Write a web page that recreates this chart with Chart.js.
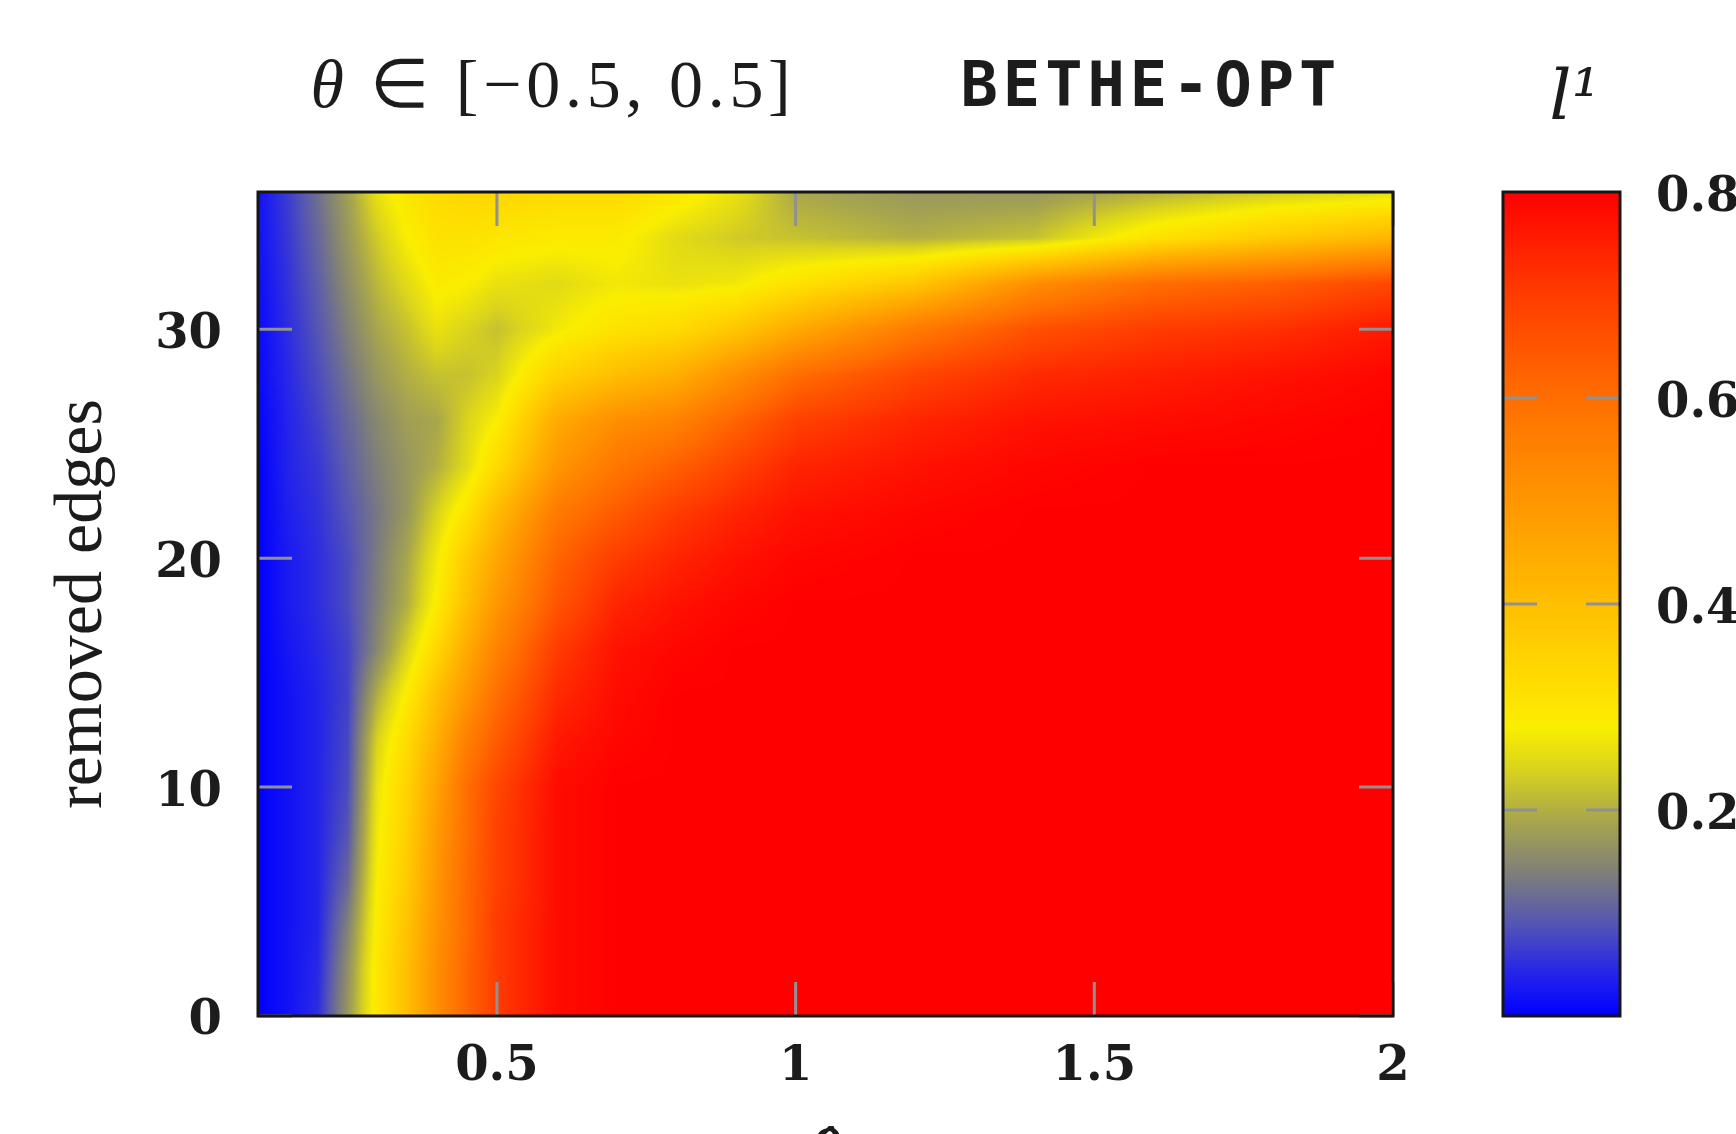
<!DOCTYPE html>
<html>
<head>
<meta charset="utf-8">
<title>BETHE-OPT l1</title>
<script src="https://cdn.jsdelivr.net/npm/chart.js@4.4.1/dist/chart.umd.min.js"></script>
<style>
  html, body { margin: 0; padding: 0; background: #fff; overflow: hidden; width: 1736px; height: 1134px; }
  #mapa { position: absolute; left: 0; top: 0; }
  #barra { position: absolute; left: 1400px; top: 0; }
</style>
</head>
<body>
<canvas id="mapa" width="1736" height="1200"></canvas>
<canvas id="barra" width="400" height="1200"></canvas>
<script>
// Ejes del mapa (beta en x, aristas eliminadas en y)
const betaCols = [0.1, 0.15, 0.2, 0.25, 0.3, 0.35, 0.4, 0.45, 0.5, 0.6, 0.7, 0.8, 0.9, 1.0, 1.2, 1.4, 1.6, 1.8, 2.0];
const aristasFilas = [0, 2, 4, 6, 8, 10, 12, 14, 16, 18, 20, 22, 24, 26, 28, 30, 32, 34, 36];
const xTicks = [0.5, 1, 1.5, 2];
const yTicks = [0, 10, 20, 30];
const barraTicks = [0.2, 0.4, 0.6, 0.8];

// Valores l1 por columna de beta (una entrada por cada fila de aristasFilas)
const col010 = [0, 0, 0, 0, 0, 0, 0, 0, 0, 0, 0, 0, 0, 0.005, 0.01, 0.01, 0.015, 0.02, 0.02];
const col015 = [0.02, 0.02, 0.02, 0.02, 0.02, 0.02, 0.02, 0.02, 0.025, 0.03, 0.03, 0.035, 0.04, 0.04, 0.045, 0.05, 0.055, 0.06, 0.065];
const col020 = [0.05, 0.045, 0.04, 0.04, 0.04, 0.04, 0.04, 0.04, 0.045, 0.05, 0.05, 0.055, 0.06, 0.07, 0.08, 0.09, 0.1, 0.11, 0.12];
const col025 = [0.17, 0.16, 0.14, 0.11, 0.09, 0.08, 0.075, 0.07, 0.07, 0.08, 0.08, 0.09, 0.1, 0.11, 0.125, 0.14, 0.155, 0.17, 0.18];
const col030 = [0.3, 0.3, 0.29, 0.28, 0.27, 0.26, 0.24, 0.2, 0.15, 0.14, 0.135, 0.13, 0.14, 0.15, 0.17, 0.19, 0.21, 0.23, 0.26];
const col035 = [0.4, 0.4, 0.39, 0.37, 0.36, 0.35, 0.33, 0.29, 0.24, 0.2, 0.19, 0.17, 0.17, 0.18, 0.2, 0.22, 0.25, 0.28, 0.3];
const col040 = [0.52, 0.52, 0.51, 0.5, 0.49, 0.47, 0.44, 0.4, 0.34, 0.29, 0.27, 0.24, 0.2, 0.19, 0.22, 0.26, 0.29, 0.31, 0.33];
const col045 = [0.62, 0.62, 0.61, 0.61, 0.6, 0.6, 0.56, 0.5, 0.45, 0.4, 0.37, 0.31, 0.25, 0.24, 0.22, 0.24, 0.28, 0.31, 0.34];
const col050 = [0.7, 0.7, 0.7, 0.69, 0.69, 0.68, 0.64, 0.6, 0.55, 0.5, 0.46, 0.41, 0.33, 0.28, 0.24, 0.22, 0.26, 0.3, 0.34];
const col060 = [0.78, 0.78, 0.78, 0.78, 0.78, 0.78, 0.76, 0.73, 0.7, 0.65, 0.62, 0.57, 0.5, 0.45, 0.35, 0.27, 0.25, 0.29, 0.33];
const col070 = [0.8, 0.8, 0.8, 0.8, 0.8, 0.8, 0.79, 0.78, 0.77, 0.74, 0.7, 0.64, 0.58, 0.52, 0.4, 0.31, 0.27, 0.29, 0.33];
const col080 = [0.8, 0.8, 0.8, 0.8, 0.8, 0.8, 0.8, 0.8, 0.79, 0.77, 0.74, 0.7, 0.63, 0.55, 0.44, 0.33, 0.26, 0.25, 0.3];
const col090 = [0.8, 0.8, 0.8, 0.8, 0.8, 0.8, 0.8, 0.8, 0.8, 0.79, 0.77, 0.74, 0.69, 0.62, 0.52, 0.38, 0.27, 0.23, 0.26];
const col100 = [0.8, 0.8, 0.8, 0.8, 0.8, 0.8, 0.8, 0.8, 0.8, 0.8, 0.79, 0.77, 0.74, 0.69, 0.6, 0.45, 0.31, 0.22, 0.19];
const col120 = [0.8, 0.8, 0.8, 0.8, 0.8, 0.8, 0.8, 0.8, 0.8, 0.8, 0.8, 0.79, 0.77, 0.74, 0.68, 0.57, 0.38, 0.2, 0.17];
const col140 = [0.8, 0.8, 0.8, 0.8, 0.8, 0.8, 0.8, 0.8, 0.8, 0.8, 0.8, 0.8, 0.79, 0.77, 0.73, 0.66, 0.52, 0.22, 0.17];
const col160 = [0.8, 0.8, 0.8, 0.8, 0.8, 0.8, 0.8, 0.8, 0.8, 0.8, 0.8, 0.8, 0.8, 0.78, 0.75, 0.7, 0.6, 0.31, 0.2];
const col180 = [0.8, 0.8, 0.8, 0.8, 0.8, 0.8, 0.8, 0.8, 0.8, 0.8, 0.8, 0.8, 0.8, 0.79, 0.77, 0.72, 0.63, 0.37, 0.23];
const col200 = [0.8, 0.8, 0.8, 0.8, 0.8, 0.8, 0.8, 0.8, 0.8, 0.8, 0.8, 0.8, 0.8, 0.8, 0.79, 0.76, 0.68, 0.42, 0.25];
const columnas = [col010, col015, col020, col025, col030, col035, col040, col045, col050, col060,
  col070, col080, col090, col100, col120, col140, col160, col180, col200];

// Paleta azul -> gris -> amarillo -> naranja -> rojo
const paletaPos = [0, 0.04, 0.09, 0.14, 0.19, 0.24, 0.28, 0.33, 0.4, 0.5, 0.6, 0.7, 0.8];
const paletaRGB = [
  [0, 0, 255], [35, 35, 235], [85, 85, 180], [128, 128, 120], [168, 166, 76], [218, 212, 28],
  [250, 238, 0], [255, 218, 0], [255, 190, 0], [255, 150, 0], [255, 110, 0], [255, 60, 0], [255, 0, 0],
];

const fuenteTicks = { family: "'DejaVu Serif'", size: 48, weight: "bold" };
const colorTexto = "#1c1c1c";
const colorMarcas = "rgb(145,145,145)";
const largoMarca = 34;

function colorDe(v) {
  if (v <= paletaPos[0]) return paletaRGB[0];
  for (let k = 0; k < paletaPos.length - 1; k++) {
    if (v <= paletaPos[k + 1]) {
      const t = (v - paletaPos[k]) / (paletaPos[k + 1] - paletaPos[k]);
      const a = paletaRGB[k], b = paletaRGB[k + 1];
      return [a[0] + (b[0] - a[0]) * t, a[1] + (b[1] - a[1]) * t, a[2] + (b[2] - a[2]) * t];
    }
  }
  return paletaRGB[paletaRGB.length - 1];
}

// Busca la celda y la fraccion dentro de ella
function buscarIntervalo(arr, v) {
  if (v <= arr[0]) return [0, 0];
  for (let i = 0; i < arr.length - 1; i++) {
    if (v <= arr[i + 1]) return [i, (v - arr[i]) / (arr[i + 1] - arr[i])];
  }
  return [arr.length - 2, 1];
}

// Interpolacion bilineal para el sombreado (como pm3d interpolate)
function valorEn(beta, aristas) {
  const [i, tx] = buscarIntervalo(betaCols, beta);
  const [j, ty] = buscarIntervalo(aristasFilas, aristas);
  const a = columnas[i][j], b = columnas[i + 1][j];
  const c = columnas[i][j + 1], d = columnas[i + 1][j + 1];
  return (a * (1 - tx) + b * tx) * (1 - ty) + (c * (1 - tx) + d * tx) * ty;
}

function dibujarMarcas(ctx, ca, pixeles, vertical) {
  ctx.save();
  ctx.strokeStyle = colorMarcas;
  ctx.lineWidth = 3;
  ctx.beginPath();
  pixeles.forEach((p) => {
    if (vertical) {
      ctx.moveTo(p, ca.bottom); ctx.lineTo(p, ca.bottom - largoMarca);
      ctx.moveTo(p, ca.top); ctx.lineTo(p, ca.top + largoMarca);
    } else {
      ctx.moveTo(ca.left, p); ctx.lineTo(ca.left + largoMarca, p);
      ctx.moveTo(ca.right, p); ctx.lineTo(ca.right - largoMarca, p);
    }
  });
  ctx.stroke();
  ctx.restore();
}

function dibujarBorde(ctx, ca) {
  ctx.save();
  ctx.strokeStyle = "#161616";
  ctx.lineWidth = 3;
  ctx.strokeRect(ca.left, ca.top, ca.right - ca.left, ca.bottom - ca.top);
  ctx.restore();
}

const pluginMapa = {
  id: "mapaCalor",
  beforeDatasetsDraw(chart) {
    const { ctx, chartArea: ca, scales } = chart;
    const w = Math.round(ca.right - ca.left);
    const h = Math.round(ca.bottom - ca.top);
    const img = ctx.createImageData(w, h);
    const betas = [];
    for (let px = 0; px < w; px++) betas.push(scales.x.getValueForPixel(ca.left + px + 0.5));
    for (let py = 0; py < h; py++) {
      const aristas = scales.y.getValueForPixel(ca.top + py + 0.5);
      for (let px = 0; px < w; px++) {
        const rgb = colorDe(valorEn(betas[px], aristas));
        const k = (py * w + px) * 4;
        img.data[k] = rgb[0];
        img.data[k + 1] = rgb[1];
        img.data[k + 2] = rgb[2];
        img.data[k + 3] = 255;
      }
    }
    ctx.putImageData(img, Math.round(ca.left), Math.round(ca.top));
  },
  afterDatasetsDraw(chart) {
    const { ctx, chartArea: ca, scales } = chart;
    dibujarMarcas(ctx, ca, scales.x.ticks.map((t) => scales.x.getPixelForValue(t.value)), true);
    dibujarMarcas(ctx, ca, scales.y.ticks.map((t) => scales.y.getPixelForValue(t.value)), false);
    dibujarBorde(ctx, ca);
  },
  afterDraw(chart) {
    // Titulo: "θ ∈ [−0.5, 0.5]" y "BETHE-OPT"
    const { ctx, chartArea: ca } = chart;
    const centro = (ca.left + ca.right) / 2;
    const base = 107;
    const inicio = centro - 515;
    const anchoObjetivo = 485;
    const resto = " ∈ [−0.5, 0.5]";
    const fuente = "68px 'Liberation Serif'";
    ctx.save();
    ctx.fillStyle = colorTexto;
    ctx.textAlign = "left";
    ctx.textBaseline = "alphabetic";
    // medir para repartir el espacio sobrante entre letras
    ctx.font = "italic " + fuente;
    const anchoTheta = ctx.measureText("θ").width;
    ctx.font = fuente;
    const anchoResto = ctx.measureText(resto).width;
    const espacio = Math.max(0, (anchoObjetivo - anchoTheta - anchoResto) / (resto.length + 1));
    ctx.letterSpacing = `${espacio}px`;
    ctx.font = "italic " + fuente;
    ctx.fillText("θ", inicio, base);
    ctx.font = fuente;
    ctx.fillText(resto, inicio + anchoTheta + espacio, base);
    ctx.font = "bold 62px 'DejaVu Sans Mono'";
    ctx.letterSpacing = "5px";
    ctx.fillText("BETHE-OPT", centro + 135, base - 1);
    ctx.letterSpacing = "0px";
    ctx.restore();
  },
};

const pluginBarra = {
  id: "barraColor",
  beforeDatasetsDraw(chart) {
    const { ctx, chartArea: ca, scales } = chart;
    for (let py = Math.round(ca.top); py < Math.round(ca.bottom); py++) {
      const rgb = colorDe(scales.y.getValueForPixel(py + 0.5));
      ctx.fillStyle = `rgb(${rgb[0]}, ${rgb[1]}, ${rgb[2]})`;
      ctx.fillRect(ca.left, py, ca.right - ca.left, 1);
    }
  },
  afterDatasetsDraw(chart) {
    const { ctx, chartArea: ca, scales } = chart;
    const pix = scales.y.ticks.filter((t) => t.value < 0.8).map((t) => scales.y.getPixelForValue(t.value));
    dibujarMarcas(ctx, ca, pix, false);
    dibujarBorde(ctx, ca);
  },
  afterDraw(chart) {
    // Etiqueta de la barra: l¹
    const { ctx, chartArea: ca } = chart;
    ctx.save();
    ctx.fillStyle = colorTexto;
    ctx.textAlign = "center";
    ctx.textBaseline = "alphabetic";
    ctx.font = "italic 70px 'DejaVu Serif'";
    ctx.fillText("l¹", (ca.left + ca.right) / 2 + 13, 119);
    ctx.restore();
  },
};

document.addEventListener("DOMContentLoaded", () => {
  // Mapa de calor principal
  new Chart(document.getElementById("mapa"), {
    type: "scatter",
    data: { datasets: [] },
    options: {
      responsive: false,
      animation: false,
      devicePixelRatio: 1,
      layout: { padding: { left: 0, top: 192, right: 343, bottom: 0 } },
      plugins: { legend: { display: false }, tooltip: { enabled: false } },
      scales: {
        x: {
          type: "linear",
          min: 0.1,
          max: 2,
          afterBuildTicks: (s) => { s.ticks = xTicks.map((v) => ({ value: v })); },
          afterFit: (s) => { s.height = 184; },
          grid: { display: false },
          border: { display: false },
          ticks: { padding: 15, color: colorTexto, font: fuenteTicks, maxRotation: 0, autoSkip: false, callback: (v) => String(v) },
          title: {
            display: true,
            text: "β̂",
            color: colorTexto,
            font: { family: "'DejaVu Serif'", size: 60, style: "italic", lineHeight: 1 },
            padding: { top: 0, bottom: 12 },
          },
        },
        y: {
          type: "linear",
          min: 0,
          max: 36,
          afterBuildTicks: (s) => { s.ticks = yTicks.map((v) => ({ value: v })); },
          afterFit: (s) => { s.width = 258; },
          grid: { display: false },
          border: { display: false },
          ticks: { padding: 28, labelOffset: 6, color: colorTexto, font: fuenteTicks, autoSkip: false, callback: (v) => String(v) },
          title: {
            display: true,
            text: "removed edges",
            color: colorTexto,
            font: { family: "'Liberation Serif'", size: 68, lineHeight: 1 },
            padding: { top: 49, bottom: 0 },
          },
        },
      },
    },
    plugins: [pluginMapa],
  });

  // Barra de color
  new Chart(document.getElementById("barra"), {
    type: "scatter",
    data: { datasets: [] },
    options: {
      responsive: false,
      animation: false,
      devicePixelRatio: 1,
      layout: { padding: { left: 103, top: 192, right: 0, bottom: 184 } },
      plugins: { legend: { display: false }, tooltip: { enabled: false } },
      scales: {
        x: { display: false, min: 0, max: 1 },
        y: {
          type: "linear",
          position: "right",
          min: 0,
          max: 0.8,
          afterBuildTicks: (s) => { s.ticks = barraTicks.map((v) => ({ value: v })); },
          afterFit: (s) => { s.width = 180; },
          grid: { display: false },
          border: { display: false },
          ticks: { padding: 28, labelOffset: 7, color: colorTexto, font: fuenteTicks, autoSkip: false, callback: (v) => String(v) },
        },
      },
    },
    plugins: [pluginBarra],
  });
});
</script>
</body>
</html>
